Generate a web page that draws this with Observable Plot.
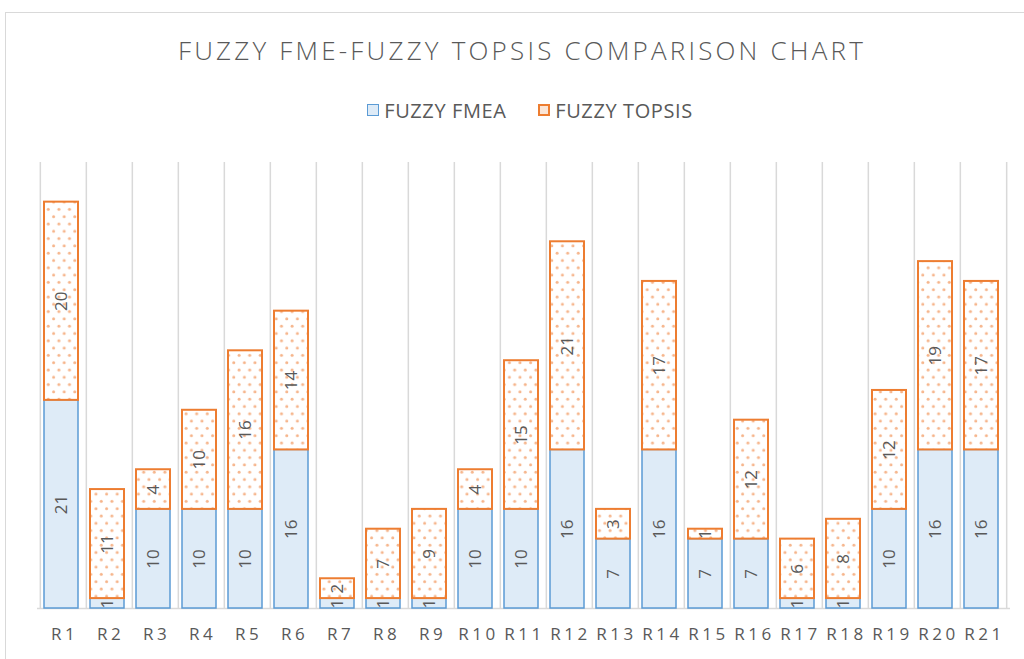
<!DOCTYPE html>
<html>
<head>
<meta charset="utf-8">
<script src="https://cdn.jsdelivr.net/npm/d3@7"></script>
<script src="https://cdn.jsdelivr.net/npm/@observablehq/plot@0.6"></script>
<style>
  body { margin: 0; background: #fff; font-family: "Open Sans", sans-serif; color: #595959; }
  #wrap { position: relative; width: 1024px; height: 659px; overflow: hidden; }
  #frame { position: absolute; left: 5px; top: 12px; width: 1100px; height: 700px; border: 1px solid #d9d9d9; box-sizing: border-box; }
  #head { position: relative; height: 140px; }
  #title { position: absolute; top: 32px; left: 0; width: 1044px; text-align: center; font-size: 26px; font-weight: 300; letter-spacing: 3.2px; color: #595959; }
  #legend { position: absolute; top: 95px; left: 8px; width: 1044px; text-align: center; font-size: 20px; letter-spacing: 0.6px; color: #595959; }
  .item { display: inline-flex; align-items: center; margin: 0 13px; }
  .sw { width: 12px; height: 12px; box-sizing: border-box; margin-right: 5px; }
  #chart { position: relative; }
</style>
</head>
<body>
<div id="wrap">
  <div id="frame"></div>
  <div id="head">
    <div id="title">FUZZY FME-FUZZY TOPSIS COMPARISON CHART</div>
    <div id="legend">
      <span class="item"><span class="sw" style="background:#deebf7;border:1.5px solid #5b9bd5"></span>FUZZY FMEA</span>
      <span class="item"><span class="sw" style="background:#fbe5d6;border:2px solid #ed7d31"></span>FUZZY TOPSIS</span>
    </div>
  </div>
  <div id="chart"></div>
</div>
<script>
const categories = ["R1","R2","R3","R4","R5","R6","R7","R8","R9","R10","R11","R12","R13","R14","R15","R16","R17","R18","R19","R20","R21"];
const fmea   = [21, 1, 10, 10, 10, 16, 1, 1, 1, 10, 10, 16, 7, 16, 7, 7, 1, 1, 10, 16, 16];
const topsis = [20, 11, 4, 10, 16, 14, 2, 7, 9, 4, 15, 21, 3, 17, 1, 12, 6, 8, 12, 19, 17];

const fmeaRows = categories.map((c, i) => ({cat: c, y1: 0, y2: fmea[i], mid: fmea[i] / 2, v: fmea[i]}));
const topRows = categories.map((c, i) => ({cat: c, y1: fmea[i], y2: fmea[i] + topsis[i], mid: fmea[i] + topsis[i] / 2, v: topsis[i]}));

const W = 1024, ML = 37, MR = 14;
const step = (W - ML - MR) / categories.length;

const plot = Plot.plot({
  width: W,
  height: 519,
  marginTop: 22,
  marginBottom: 51,
  marginLeft: ML,
  marginRight: MR,
  style: {fontFamily: "Open Sans, sans-serif", color: "#595959", background: "transparent"},
  x: {domain: categories, paddingInner: 0.26, paddingOuter: 0.13, label: null},
  y: {domain: [0, 45], axis: null},
  marks: [
    Plot.ruleX(categories, {x: d => d, dx: -step / 2, y1: 0, y2: 45, stroke: "#d9d9d9", strokeWidth: 1.5}),
    Plot.ruleX([categories[categories.length - 1]], {x: d => d, dx: step / 2, y1: 0, y2: 45, stroke: "#d9d9d9", strokeWidth: 1.5}),
    Plot.ruleY([0], {stroke: "#d9d9d9", strokeWidth: 1.5}),
    Plot.barY(fmeaRows, {x: "cat", y1: "y1", y2: "y2", fill: "#deebf7", stroke: "#5b9bd5", strokeWidth: 1.5, dx: -2}),
    Plot.text(fmeaRows, {x: "cat", y: "mid", text: "v", rotate: -90, fontSize: 17, fill: "#595959", dx: -2}),
    Plot.barY(topRows, {x: "cat", y1: "y1", y2: "y2", fill: "url(#dots)", stroke: "#ed7d31", strokeWidth: 2, dx: -2}),
    Plot.text(topRows, {x: "cat", y: "mid", text: "v", rotate: -90, fontSize: 17, fill: "#595959", dx: -2}),
    Plot.axisX({tickSize: 0, tickPadding: 19, fontSize: 17, fill: "#595959", dx: 1})
  ]
});

// dotted pattern for the TOPSIS bars
const svg = d3.select(plot);
const defs = svg.insert("defs", ":first-child");
const pat = defs.append("pattern").attr("id", "dots").attr("patternUnits", "userSpaceOnUse")
  .attr("width", 10.6).attr("height", 14.6);
pat.append("rect").attr("width", 10.6).attr("height", 14.6).attr("fill", "#ffffff");
pat.append("circle").attr("cx", 2.6).attr("cy", 3.6).attr("r", 1.5).attr("fill", "#f6b48a");
pat.append("circle").attr("cx", 7.9).attr("cy", 10.9).attr("r", 1.5).attr("fill", "#f6b48a");

// letter-spaced category labels
svg.selectAll("text").filter(function() { return categories.includes(this.textContent.trim()); })
  .style("letter-spacing", "3.5px");

document.getElementById("chart").appendChild(plot);
</script>
</body>
</html>
